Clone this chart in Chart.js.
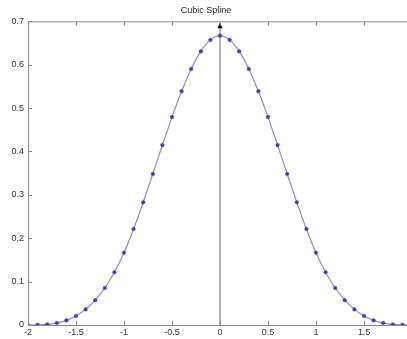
<!DOCTYPE html>
<html>
<head>
<meta charset="utf-8">
<script src="https://cdn.jsdelivr.net/npm/chart.js@4/dist/chart.umd.min.js"></script>
<style>
  html, body { margin: 0; padding: 0; background: #fff; overflow: hidden; }
  #wrap { width: 420px; height: 339px; }
</style>
</head>
<body>
<div id="wrap"><canvas id="c" width="420" height="339"></canvas></div>
<script>
// sample positions and spline values
const xs = [-2, -1.9, -1.8, -1.7, -1.6, -1.5, -1.4, -1.3, -1.2, -1.1, -1,
  -0.9, -0.8, -0.7, -0.6, -0.5, -0.4, -0.3, -0.2, -0.1, 0,
  0.1, 0.2, 0.3, 0.4, 0.5, 0.6, 0.7, 0.8, 0.9, 1,
  1.1, 1.2, 1.3, 1.4, 1.5, 1.6, 1.7, 1.8, 1.9, 2]
const ys = [0, 0.0002, 0.0013, 0.0045, 0.0107, 0.0208, 0.036, 0.0572, 0.0853, 0.1215, 0.1667,
  0.2212, 0.2827, 0.3482, 0.4147, 0.4792, 0.5387, 0.5902, 0.6307, 0.6572, 0.6667,
  0.6572, 0.6307, 0.5902, 0.5387, 0.4792, 0.4147, 0.3482, 0.2827, 0.2212, 0.1667,
  0.1215, 0.0853, 0.0572, 0.036, 0.0208, 0.0107, 0.0045, 0.0013, 0.0002, 0]
const xTicks = [-2, -1.5, -1, -0.5, 0, 0.5, 1, 1.5, 2]
const yTicks = [0, 0.1, 0.2, 0.3, 0.4, 0.5, 0.6, 0.7]

const fontFam = "'Liberation Sans', Arial, sans-serif"

// box, inward tick marks and the arrow at x = 0
let Frame = {
  id: "frame",
  beforeDatasetsDraw(chart) {
    const {ctx, chartArea: a, scales: {x}} = chart
    ctx.save()
    const x0 = Math.round(x.getPixelForValue(0))
    ctx.strokeStyle = "#b4b4b4"
    ctx.lineWidth = 2
    ctx.beginPath()
    ctx.moveTo(x0, a.bottom)
    ctx.lineTo(x0, a.top + 6)
    ctx.stroke()
    ctx.fillStyle = "#111"
    ctx.beginPath()
    ctx.moveTo(x0, a.top + 1)
    ctx.lineTo(x0 - 2.5, a.top + 7)
    ctx.lineTo(x0 + 2.5, a.top + 7)
    ctx.closePath()
    ctx.fill()
    ctx.restore()
  },
  afterDraw(chart) {
    const {ctx, chartArea: a, scales: {x, y}} = chart
    ctx.save()
    ctx.strokeStyle = "#8a8a8a"
    ctx.lineWidth = 1
    ctx.strokeRect(a.left + 0.5, a.top + 0.5, a.right - a.left, a.bottom - a.top)
    ctx.beginPath()
    xTicks.forEach(v => {
      const px = Math.round(x.getPixelForValue(v)) + 0.5
      ctx.moveTo(px, a.bottom); ctx.lineTo(px, a.bottom - 4)
      ctx.moveTo(px, a.top); ctx.lineTo(px, a.top + 4)
    })
    yTicks.forEach(v => {
      const py = Math.round(y.getPixelForValue(v)) + 0.5
      ctx.moveTo(a.left, py); ctx.lineTo(a.left + 4, py)
      ctx.moveTo(a.right, py); ctx.lineTo(a.right - 4, py)
    })
    ctx.stroke()
    ctx.restore()
  }
}

new Chart(document.getElementById("c"), {
  type: "line",
  data: {
    datasets: [{
      data: xs.map((v, i) => ({x: v, y: ys[i]})),
      borderColor: "#8e8eae",
      borderWidth: 1.2,
      cubicInterpolationMode: "monotone",
      pointRadius: 1.8,
      pointBackgroundColor: "#3c3cc4",
      pointBorderColor: "#3c3cc4",
      pointBorderWidth: 0.5
    }]
  },
  options: {
    responsive: false,
    animation: false,
    events: [],
    layout: { padding: { top: 0, right: 8, left: 0, bottom: 0 } },
    plugins: {
      legend: { display: false },
      tooltip: { enabled: false },
      title: {
        display: true,
        text: "Cubic Spline",
        color: "#222",
        font: { family: fontFam, size: 9, weight: "normal" },
        padding: { top: 5, bottom: 5.5 }
      }
    },
    scales: {
      x: {
        type: "linear",
        min: -2, max: 2,
        afterBuildTicks: s => { s.ticks = xTicks.map(v => ({value: v})) },
        afterFit: s => { s.height = 14 },
        grid: { display: false, drawTicks: false, tickLength: 0 },
        border: { display: false },
        ticks: {
          color: "#333",
          padding: 2,
          font: { family: fontFam, size: 9 },
          maxRotation: 0,
          autoSkip: false,
          callback: v => String(v)
        }
      },
      y: {
        min: 0, max: 0.7,
        afterBuildTicks: s => { s.ticks = yTicks.map(v => ({value: v})) },
        afterFit: s => { s.width = 28 },
        grid: { display: false, drawTicks: false, tickLength: 0 },
        border: { display: false },
        ticks: {
          color: "#333",
          padding: 4,
          font: { family: fontFam, size: 9 },
          autoSkip: false,
          callback: v => String(Math.round(v * 10) / 10)
        }
      }
    }
  },
  plugins: [Frame]
})
</script>
</body>
</html>
